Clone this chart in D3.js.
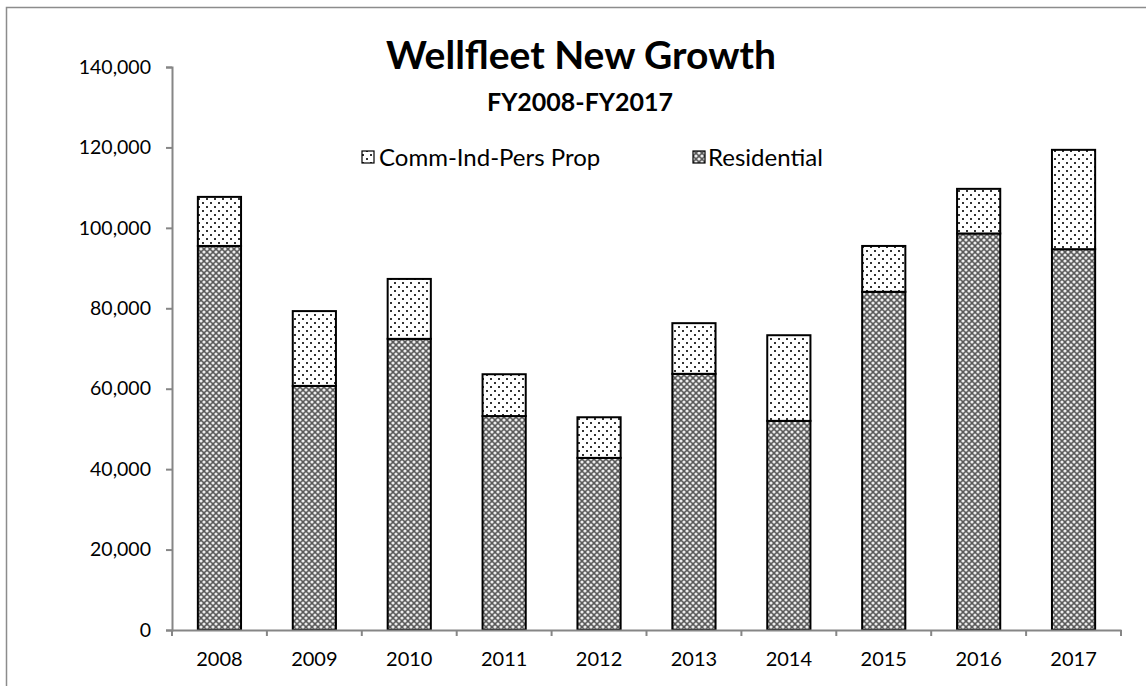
<!DOCTYPE html>
<html><head><meta charset="utf-8">
<script src="https://cdn.jsdelivr.net/npm/d3@7/dist/d3.min.js"></script>
<style>body{margin:0;background:#fff}svg{display:block;font-family:Lato,"Open Sans",sans-serif}</style>
</head><body>
<svg id="c" width="1146" height="686"></svg>
<script>
const years = ["2008","2009","2010","2011","2012","2013","2014","2015","2016","2017"];
const residential = [95500, 60700, 72400, 53200, 42800, 63700, 52000, 84100, 98600, 94700];
const commIndPers = [12200, 18600, 14900, 10400, 10100, 12600, 21300, 11400, 11100, 24700];
const yTicks = [0, 20000, 40000, 60000, 80000, 100000, 120000, 140000];
const seriesNames = ["Comm-Ind-Pers Prop", "Residential"];

const svg = d3.select("#c");
const defs = svg.append("defs");
// dotted pattern
const pd = defs.append("pattern").attr("id","dots").attr("patternUnits","userSpaceOnUse")
  .attr("width",16).attr("height",8);
pd.append("rect").attr("width",16).attr("height",8).attr("fill","#fff");
[[2,2],[10,2],[6,6],[14,6]].forEach(([x,y])=>pd.append("rect").attr("x",x).attr("y",y).attr("width",2).attr("height",2).attr("fill","#333"));
// residential pattern
const pr = defs.append("pattern").attr("id","hatch").attr("patternUnits","userSpaceOnUse")
  .attr("width",6).attr("height",6);
pr.append("rect").attr("width",6).attr("height",6).attr("fill","#5a5a5a");
[[0,0],[6,0],[0,6],[6,6],[3,3]].forEach(([x,y])=>pr.append("circle").attr("cx",x).attr("cy",y).attr("r",1.6).attr("fill","#ebebeb"));

// chart border
svg.append("rect").attr("x",6.5).attr("y",7.5).attr("width",1200).attr("height",800)
  .attr("fill","none").attr("stroke","#8c8c8c").attr("stroke-width",1.5);

const x = d3.scaleBand().domain(years).range([172,1121]).paddingInner(0.545).paddingOuter(0.2725);
const y = d3.scaleLinear().domain([0,140000]).range([630,67]);

const stack = d3.stack().keys(["res","comm"])(years.map((yr,i)=>({yr, res:residential[i], comm:commIndPers[i]})));
const fills = {res:"url(#hatch)", comm:"url(#dots)"};
stack.forEach(s=>{
  svg.append("g").selectAll("rect").data(s).join("rect")
    .attr("x",d=>x(d.data.yr)).attr("width",x.bandwidth())
    .attr("y",d=>y(d[1])).attr("height",d=>y(d[0])-y(d[1]))
    .attr("fill",fills[s.key]).attr("stroke","#000").attr("stroke-width",2);
});

// y axis
const ya = svg.append("g").attr("transform","translate(172,0)")
  .call(d3.axisLeft(y).tickValues(yTicks).tickFormat(d3.format(",")).tickSize(6).tickPadding(15));
ya.select(".domain").attr("stroke","#868686").attr("stroke-width",2);
ya.selectAll(".tick line").attr("stroke","#868686").attr("stroke-width",2);
ya.selectAll("text").attr("font-size",19.5).attr("fill","#000").attr("font-family","Lato");

// x axis
const xa = svg.append("g").attr("transform","translate(0,630)")
  .call(d3.axisBottom(x).tickSize(0).tickPadding(22));
xa.select(".domain").attr("stroke","#868686").attr("stroke-width",2);
xa.selectAll("text").attr("font-size",20).attr("fill","#000").attr("font-family","Lato");
const bounds = d3.range(years.length+1).map(i=>x.range()[0] + i*x.step() - (i===0?0:0));
xa.append("g").selectAll("line").data(bounds.map((b,i)=>172 + i*(949/years.length))).join("line")
  .attr("x1",d=>d).attr("x2",d=>d).attr("y1",0).attr("y2",6)
  .attr("stroke","#868686").attr("stroke-width",2);

// titles
svg.append("text").attr("x",581).attr("y",69).attr("text-anchor","middle")
  .attr("font-size",39).attr("font-weight","bold").text("Wellfleet New Growth");
svg.append("text").attr("x",580).attr("y",111).attr("text-anchor","middle")
  .attr("font-size",25).attr("font-weight","bold").text("FY2008-FY2017");

// legend
const lg = [{name:seriesNames[0], fill:"url(#dots)", bx:362, tx:379},{name:seriesNames[1], fill:"url(#hatch)", bx:693, tx:708}];
lg.forEach(l=>{
  svg.append("rect").attr("x",l.bx).attr("y",151).attr("width",12).attr("height",12)
    .attr("fill",l.fill).attr("stroke","#000").attr("stroke-width",1.2);
  svg.append("text").attr("x",l.tx).attr("y",166).attr("font-size",24).text(l.name);
});
</script>
</body></html>
